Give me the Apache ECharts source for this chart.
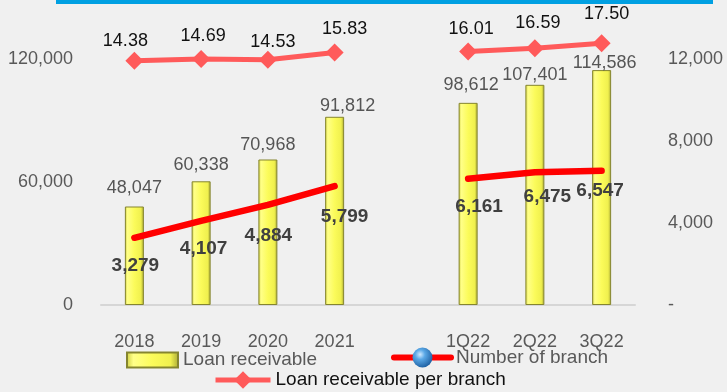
<!DOCTYPE html>
<html>
<head>
<meta charset="utf-8">
<title>Loan receivable and branches</title>
<script src="https://cdn.jsdelivr.net/npm/echarts@6/dist/echarts.min.js"></script>
<style>
  html, body { margin: 0; padding: 0; background: #f0f0f0; }
  #chart { width: 727px; height: 392px; }
</style>
</head>
<body>
<div id="chart"></div>
<script>
// Periods (the empty slot separates the yearly and the quarterly figures)
const categories = ['2018', '2019', '2020', '2021', '', '1Q22', '2Q22', '3Q22'];
// Loan receivable (left axis)
const loanReceivable = [48047, 60338, 70968, 91812, null, 98612, 107401, 114586];
// Number of branch (right axis)
const branchCount = [3279, 4107, 4884, 5799, null, 6161, 6475, 6547];
// Loan receivable per branch (own hidden scale, drawn along the top)
const loanPerBranch = [14.38, 14.69, 14.53, 15.83, null, 16.01, 16.59, 17.50];
// Axis ticks
const leftTicks = [0, 60000, 120000];
const rightTicks = [0, 4000, 8000, 12000];

// Small label nudges [dx, dy] per period, so labels sit clear of each other
const barLabelNudge = [[0, -4.5], [0, -2.6], [0, 0], [13, 3], [0, 0], [3, -4], [0, 4], [3, 7.4]];
const branchLabelNudge = [[1, 0], [2.5, -0.5], [0.5, 3], [10, 3], [0, 0], [11, 0], [12.5, -3], [-1.5, -8]];
const perBranchLabelNudge = [[-9, 2], [2, -0.5], [5, 4.4], [10, -2], [0, 0], [3, -0.7], [3, -3.3], [5, -7.1]];

const FONT = "'Liberation Sans', Arial, Helvetica, sans-serif";
const fmt = v => Number(v).toLocaleString('en-US');

const withNudge = (values, nudges) =>
  values.map((v, i) => v == null ? '-' : { value: v, label: { offset: nudges[i] } });

const barFill = {
  type: 'linear', x: 0, y: 0, x2: 1, y2: 0,
  colorStops: [
    { offset: 0, color: '#cfcf40' },
    { offset: 0.14, color: '#ffff88' },
    { offset: 0.5, color: '#fbfb5a' },
    { offset: 0.84, color: '#f0f04e' },
    { offset: 1, color: '#a8a834' }
  ]
};

const sphere = {
  type: 'radial', x: 0.38, y: 0.35, r: 0.7,
  colorStops: [
    { offset: 0, color: '#cfe9ff' },
    { offset: 0.35, color: '#5aa8e6' },
    { offset: 1, color: '#1b5c9e' }
  ]
};

const chart = echarts.init(document.getElementById('chart'), null, { renderer: 'canvas' });

chart.setOption({
  backgroundColor: '#f0f0f0',
  animation: false,
  textStyle: { fontFamily: FONT },
  graphic: [{
    type: 'rect',
    shape: { x: 56, y: 0, width: 657, height: 4 },
    style: { fill: '#00a0e2' },
    silent: true
  }],
  grid: { left: 101, right: 92, top: 59, bottom: 87, containLabel: false },
  legend: [
    {
      data: [{ name: 'Loan receivable', icon: 'rect' }],
      left: 126, top: 350, padding: 0,
      itemWidth: 51, itemHeight: 15,
      textStyle: { fontFamily: FONT, fontSize: 19, color: '#595959', lineHeight: 20 }
    },
    {
      data: [{
        name: 'Number of branch',
        itemStyle: { color: sphere, borderWidth: 0 },
        lineStyle: { color: '#ff0000', width: 6 }
      }],
      left: 391, top: 347.5, padding: 0,
      itemWidth: 57, itemHeight: 25,
      textStyle: { fontFamily: FONT, fontSize: 19, color: '#595959', lineHeight: 20 }
    },
    {
      data: [{
        name: 'Loan receivable per branch',
        lineStyle: { color: '#ff5a5a', width: 5 }
      }],
      left: 213, top: 370, padding: 0,
      itemWidth: 55, itemHeight: 22,
      textStyle: { fontFamily: FONT, fontSize: 19, color: '#111111', lineHeight: 20 }
    }
  ],
  xAxis: {
    type: 'category',
    data: categories,
    axisTick: { show: false },
    axisLine: { lineStyle: { color: '#d6d6d6', width: 2 } },
    axisLabel: { interval: 0, margin: 28, fontSize: 18, color: '#595959', fontFamily: FONT }
  },
  yAxis: [
    {
      type: 'value',
      min: leftTicks[0], max: leftTicks[leftTicks.length - 1],
      interval: leftTicks[1] - leftTicks[0],
      splitLine: { show: false },
      axisLine: { show: false }, axisTick: { show: false },
      axisLabel: { margin: 28, fontSize: 18, color: '#595959', fontFamily: FONT, formatter: v => fmt(v) }
    },
    {
      type: 'value',
      min: rightTicks[0], max: rightTicks[rightTicks.length - 1],
      interval: rightTicks[1] - rightTicks[0],
      splitLine: { show: false },
      axisLine: { show: false }, axisTick: { show: false },
      axisLabel: { margin: 33, fontSize: 18, color: '#595959', fontFamily: FONT, formatter: v => v === 0 ? '-' : fmt(v) }
    },
    {
      type: 'value', show: false,
      min: -29.4, max: 14.68,
      splitLine: { show: false }
    }
  ],
  series: [
    {
      name: 'Loan receivable',
      type: 'bar',
      yAxisIndex: 0,
      barWidth: 19,
      data: withNudge(loanReceivable, barLabelNudge),
      itemStyle: { color: barFill, borderColor: '#85852f', borderWidth: 1 },
      label: {
        show: true, position: 'top', distance: 5,
        fontSize: 18, color: '#555555', fontFamily: FONT,
        formatter: p => fmt(p.value)
      },
      z: 2
    },
    {
      name: 'Number of branch',
      type: 'line',
      yAxisIndex: 1,
      data: withNudge(branchCount, branchLabelNudge),
      symbol: 'circle', symbolSize: 1, showSymbol: true,
      itemStyle: { color: '#ff0000' },
      lineStyle: { color: '#ff0000', width: 6.5, cap: 'round' },
      label: {
        show: true, position: 'bottom', distance: 18,
        fontSize: 19, fontWeight: 'bold', color: '#404040', fontFamily: FONT,
        formatter: p => fmt(p.value)
      },
      z: 4
    },
    {
      name: 'Loan receivable per branch',
      type: 'line',
      yAxisIndex: 2,
      clip: false,
      data: withNudge(loanPerBranch, perBranchLabelNudge),
      symbol: 'diamond', symbolSize: 18,
      itemStyle: { color: '#ff5a5a' },
      lineStyle: { color: '#ff5a5a', width: 5 },
      label: {
        show: true, position: 'top', distance: 4,
        fontSize: 18, color: '#111111', fontFamily: FONT,
        formatter: p => Number(p.value).toFixed(2)
      },
      z: 5
    }
  ]
});
</script>
</body>
</html>
